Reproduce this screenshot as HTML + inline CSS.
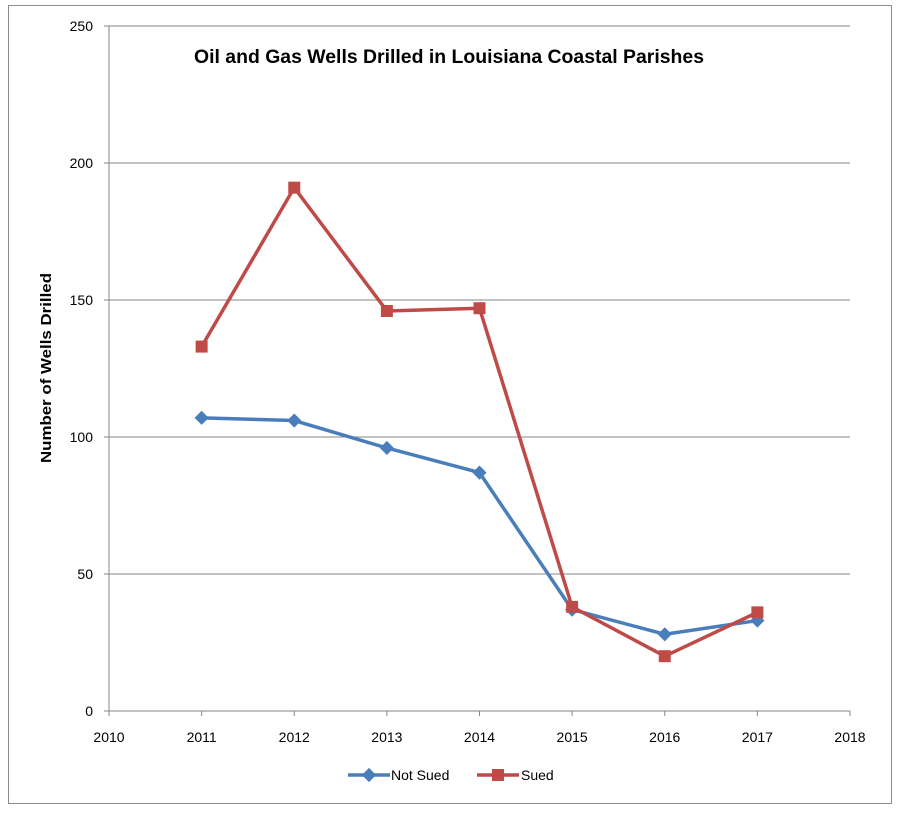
<!DOCTYPE html>
<html><head><meta charset="utf-8"><style>
html,body{margin:0;padding:0;background:#fff;}
svg{display:block;font-family:"Liberation Sans",sans-serif;}
</style></head><body>
<svg id="chart" width="905" height="815" viewBox="0 0 905 815">
<rect x="8.5" y="5.5" width="883" height="798" fill="#fff" stroke="#8c8c8c"/>
<text x="194" y="63" textLength="510" lengthAdjust="spacingAndGlyphs" font-size="19" font-weight="bold" fill="#000">Oil and Gas Wells Drilled in Louisiana Coastal Parishes</text>
<text transform="translate(51,463) rotate(-90)" textLength="190" lengthAdjust="spacingAndGlyphs" font-size="15" font-weight="bold" fill="#000">Number of Wells Drilled</text>
<g id="grid"></g><g id="axes"></g><g id="series"></g>
<g>
<g>
<line x1="348" y1="775" x2="390" y2="775" stroke="#4a7ebb" stroke-width="3.5"/>
<rect x="364" y="770" width="10" height="10" fill="#4a7ebb" transform="rotate(45 369 775)"/>
<text x="391" y="780" font-size="14" fill="#000">Not Sued</text></g>
<g>
<line x1="477" y1="775" x2="519" y2="775" stroke="#be4b48" stroke-width="3.5"/>
<rect x="492" y="769" width="12" height="12" fill="#be4b48"/>
<text x="521" y="780" font-size="14" fill="#000">Sued</text></g>
</g>
</svg>
<script>
const years=[2011,2012,2013,2014,2015,2016,2017];
const notSued=[107,106,96,87,37,28,33];
const sued=[133,191,146,147,38,20,36];
const yTicks=[0,50,100,150,200,250];
const xTicks=[2010,2011,2012,2013,2014,2015,2016,2017,2018];
const NS="http://www.w3.org/2000/svg";
const X0=109,X1=850,Y0=711,Y1=26;
const xs=v=>X0+(v-2010)/8*(X1-X0);
const ys=v=>Y0-v/250*(Y0-Y1);
function mk(t,a,p){const e=document.createElementNS(NS,t);for(const k in a)e.setAttribute(k,a[k]);p.appendChild(e);return e;}
const grid=document.getElementById('grid'),axes=document.getElementById('axes'),ser=document.getElementById('series');
yTicks.forEach(v=>{
 if(v>0){const g=mk('line',{x1:X0,x2:X1,y1:ys(v),y2:ys(v),stroke:'#868686','stroke-width':1},grid);
 
 }
 mk('line',{x1:X0-5,x2:X0,y1:ys(v),y2:ys(v),stroke:'#868686'},axes);
 const t=mk('text',{x:X0-16,y:ys(v)+5,'text-anchor':'end','font-size':14,fill:'#000'},axes);t.textContent=v;
 
 
});
mk('line',{x1:X0,x2:X0,y1:Y1,y2:Y0,stroke:'#868686'},axes);
mk('line',{x1:X0,x2:X1,y1:Y0,y2:Y0,stroke:'#868686'},axes);
xTicks.forEach(v=>{
 mk('line',{x1:xs(v),x2:xs(v),y1:Y0,y2:Y0+5,stroke:'#868686'},axes);
 const t=mk('text',{x:xs(v),y:Y0+31,'text-anchor':'middle','font-size':14,fill:'#000'},axes);t.textContent=v;
 
 
});
function line(vals,color,name,marker){
 const p=mk('polyline',{points:years.map((y,i)=>xs(y)+','+ys(vals[i])).join(' '),fill:'none',stroke:color,'stroke-width':3.5,'stroke-linejoin':'round'},ser);
 
 
 years.forEach((y,i)=>{
  const cx=xs(y),cy=ys(vals[i]);let m;
  if(marker==='d')m=mk('rect',{x:cx-5,y:cy-5,width:10,height:10,fill:color,transform:'rotate(45 '+cx+' '+cy+')'},ser);
  else m=mk('rect',{x:cx-6,y:cy-6,width:12,height:12,fill:color},ser);
  
  
 });
}
line(notSued,'#4a7ebb','not-sued','d');
line(sued,'#be4b48','sued','s');
</script>
</body></html>
